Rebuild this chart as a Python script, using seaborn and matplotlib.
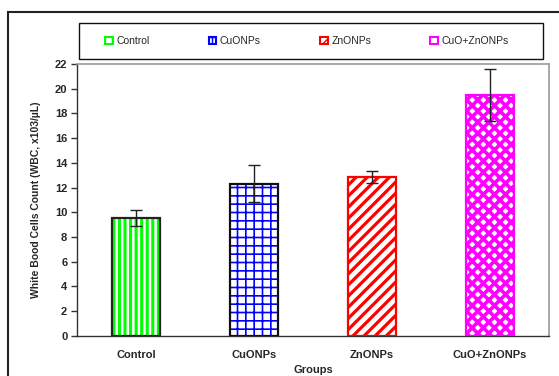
import numpy as np
import matplotlib
matplotlib.use('Agg')
import matplotlib.pyplot as plt
import matplotlib.patches as mpatches
import seaborn as sns

groups = ['Control', 'CuONPs', 'ZnONPs', 'CuO+ZnONPs']
wbc_mean = [9.5, 12.3, 12.85, 19.5]
wbc_err = [0.65, 1.5, 0.5, 2.1]
y_ticks = [0, 2, 4, 6, 8, 10, 12, 14, 16, 18, 20, 22]

hatch_colors = ['#00ff00', '#0000ff', '#ff0000', '#ff00ff']
border_colors = ['#222222', '#111111', '#ff0000', '#ff00ff']
hatches = ['|||', '++', '///', 'xxx']
hatch_widths = [2.2, 1.2, 2.3, 2.6]

sns.set_style('white')
plt.rcParams['font.family'] = ['Liberation Sans', 'DejaVu Sans']

fig = plt.figure(figsize=(5.59, 3.76), dpi=100)
ax = fig.add_axes([77 / 559, 40.3 / 376, 472 / 559, 271.7 / 376])

sns.barplot(x=groups, y=wbc_mean, hue=groups, palette=['white'] * 4,
            width=0.41, legend=False, ax=ax, saturation=1, errorbar=None)


def style_patch(p, i, hw):
    p.set_facecolor('white')
    p.set_edgecolor(hatch_colors[i])
    p.set_hatch(hatches[i])
    p.set_linewidth(0)
    if hasattr(p, 'set_hatch_linewidth'):
        p.set_hatch_linewidth(hw)


bars = list(ax.patches)
for i, p in enumerate(bars):
    style_patch(p, i, hatch_widths[i])
    ax.add_patch(mpatches.Rectangle((p.get_x(), 0), p.get_width(), p.get_height(),
                                    fill=False, edgecolor=border_colors[i], lw=1.6, zorder=3))

centers = [p.get_x() + p.get_width() / 2 for p in bars]
ax.errorbar(centers, wbc_mean, yerr=wbc_err, fmt='none', ecolor='#222222',
            elinewidth=1.0, capsize=4, capthick=1.0, zorder=4)

ax.set_ylim(0, 22)
ax.set_xlim(-0.5, 3.5)
ax.set_yticks(y_ticks)
ax.set_yticklabels([str(t) for t in y_ticks], fontsize=8, fontweight='bold')
ax.set_xticks(range(len(groups)))
ax.set_xticklabels(groups, fontsize=8, fontweight='bold')
ax.set_xticks(np.arange(-0.5, len(groups), 1), minor=True)
ax.tick_params(axis='x', which='major', length=0, pad=10)
ax.tick_params(axis='x', which='minor', length=4, width=1, color='#333333', direction='out')
ax.tick_params(axis='y', length=4, width=1, color='#333333', direction='out', pad=3, left=True)
ax.set_xlabel('Groups', fontsize=8, fontweight='bold', labelpad=4)
ax.set_ylabel('White Bood Cells Count (WBC, x103/\u00b5L)', fontsize=7.5, fontweight='bold', labelpad=10)

for s in ['left', 'bottom']:
    ax.spines[s].set_color('#333333')
    ax.spines[s].set_linewidth(1.0)
for s in ['top', 'right']:
    ax.spines[s].set_visible(True)
    ax.spines[s].set_color('#999999')
    ax.spines[s].set_linewidth(1.2)

# legend box drawn separately, entries centred inside
fig.add_artist(mpatches.Rectangle((79 / 559, 317 / 376), 464 / 559, 36 / 376,
                                  transform=fig.transFigure, fill=False,
                                  edgecolor='#111111', lw=1.0))
handles = []
for i, g in enumerate(groups):
    h = mpatches.Patch(facecolor='white', edgecolor=hatch_colors[i], hatch=hatches[i][:2],
                       lw=1.5, label=g)
    handles.append(h)
leg = fig.legend(handles=handles, loc='center', ncol=4,
                 bbox_to_anchor=(307 / 559, 335 / 376),
                 fontsize=7.5, frameon=False,
                 handlelength=0.7, handleheight=0.7, handletextpad=0.35,
                 columnspacing=5.7, borderaxespad=0)

fig.add_artist(mpatches.Rectangle((8 / 559, -0.1), 1.2, 1.1 - 12 / 376,
                                  transform=fig.transFigure, fill=False,
                                  edgecolor='#222222', lw=1.5))

fig.savefig('out.png', dpi=100)
